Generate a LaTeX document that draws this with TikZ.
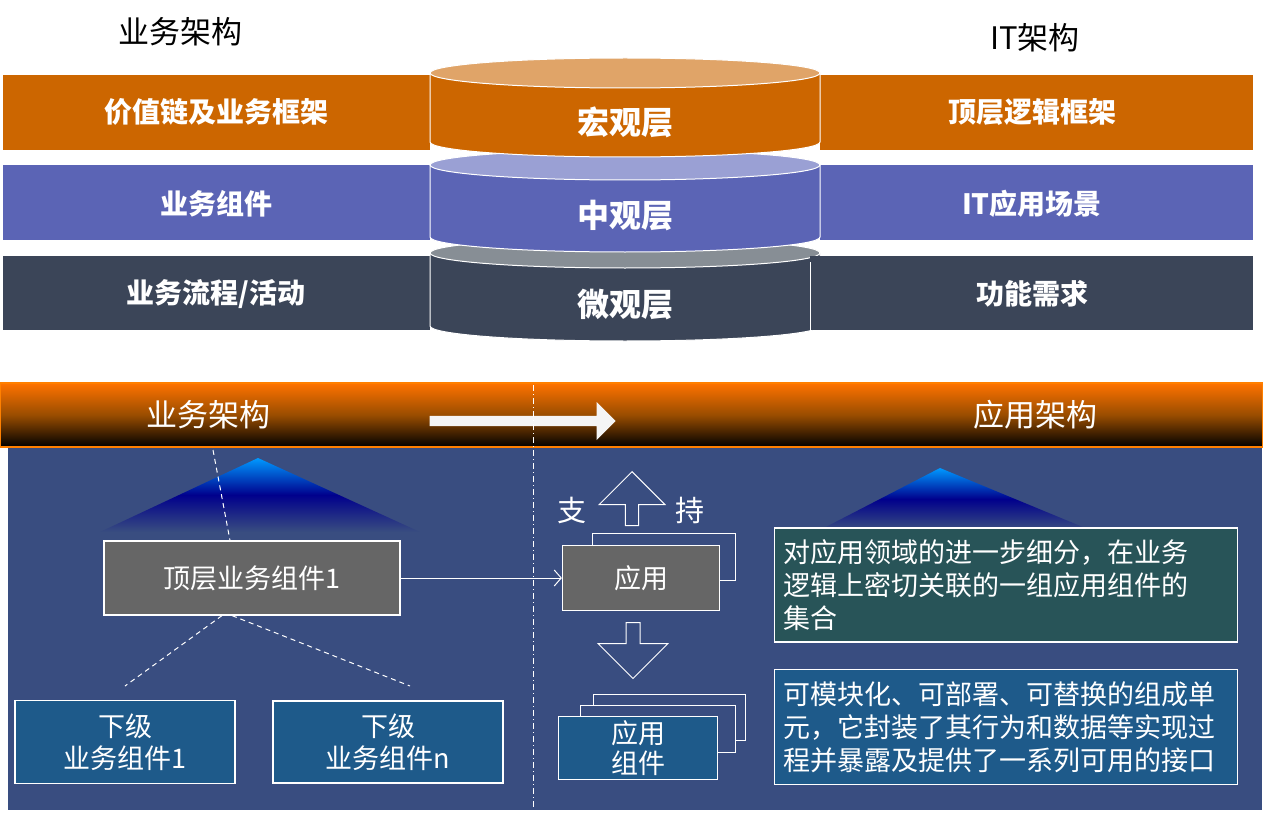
\documentclass[tikz,border=0pt]{standalone}
\usepackage{fontspec}
\setmainfont{Noto Sans CJK SC}
\usetikzlibrary{arrows.meta,shapes.arrows}
\definecolor{org}{HTML}{CC6600}\definecolor{orgL}{HTML}{E0A468}
\definecolor{pur}{HTML}{5B64B5}\definecolor{purL}{HTML}{9AA0D4}
\definecolor{drk}{HTML}{3B4558}\definecolor{drkL}{HTML}{878E95}
\definecolor{panel}{HTML}{394D80}\definecolor{bluebox}{HTML}{1E5A8A}
\definecolor{teal}{HTML}{285458}
\tikzset{band/.style={font=\bfseries\fontsize{28}{30}\selectfont,text=white},
 layer/.style={font=\bfseries\fontsize{32}{34}\selectfont,text=white},
 wbox/.style={draw=white,line width=1.2pt,text=white,font=\fontsize{27}{32}\selectfont,align=center},
 frame/.style={draw=white,line width=1pt},
 dsh/.style={draw=white,dashed,line width=1pt,dash pattern=on 5pt off 4pt}}
\newcommand{\cyl}[6]{%
 \fill[#3] (430,#1) -- (430,#2) arc[start angle=180,end angle=360,x radius=195,y radius=-15] -- (820,#1) -- cycle;
 \draw[white,line width=1pt] (430,#1) -- (430,#2) arc[start angle=180,end angle=360,x radius=195,y radius=-15] -- (820,#1);
 \filldraw[fill=#4,draw=white,line width=1pt] (625,#1) ellipse[x radius=195,y radius=15];
 \node[layer] (#6) at (625,{(#1+#2)/2+15}) {#5};}
\begin{document}
\begin{tikzpicture}[x=1pt,y=-1pt]
\useasboundingbox (0,0) rectangle (1263,813);
\fill[white] (0,0) rectangle (1263,813);
\node[font=\fontsize{31}{34}\selectfont] (h1) at (180,32) {业务架构};
\node[font=\fontsize{31}{34}\selectfont] (h2) at (1035,38) {IT架构};
% bands
\fill[org] (3,75) rectangle (430,150); \fill[org] (820,75) rectangle (1253,150);
\fill[pur] (3,165) rectangle (430,240); \fill[pur] (820,165) rectangle (1253,240);
\fill[drk] (3,256) rectangle (430,330);
\cyl{253}{326}{drk}{drkL}{微观层}{l3}
\fill[drk] (810,256) rectangle (1253,330);
\draw[white,line width=1pt] (810,262) -- (810,330);
\node[band] (b1) at (216,112) {价值链及业务框架};
\node[band] (b2) at (216,204) {业务组件};
\node[band] (b3) at (216,294) {业务流程/活动};
\node[band] (r1) at (1032,112) {顶层逻辑框架};
\node[band] (r2) at (1032,204) {IT应用场景};
\node[band] (r3) at (1032,294) {功能需求};
\cyl{165}{237}{pur}{purL}{中观层}{l2}
\cyl{73}{142}{org}{orgL}{宏观层}{l1}
% panel
\fill[panel] (8,447) rectangle (1262,810);
\shade[top color=orange!90!red,bottom color=black,middle color=orange!60!black] (0,383) rectangle (1263,447);
\draw[orange,line width=1.2pt] (0,383) rectangle (1263,447);
\node[text=white,font=\fontsize{31}{34}\selectfont] (t1) at (208,415) {业务架构};
\node[text=white,font=\fontsize{31}{34}\selectfont] (t2) at (1035,415) {应用架构};
\node[single arrow,fill=white!92!gray,minimum height=186pt,minimum width=38pt,single arrow head extend=6pt,inner sep=2pt,single arrow tip angle=90] (ar) at (520,421) {};
\draw[white,line width=1pt,dash pattern=on 6pt off 3pt on 1pt off 3pt] (533,385) -- (533,810);
% glows
\shade[top color=cyan!60!blue,bottom color=panel,middle color=blue!55!black] (258,458) -- (420,532) -- (100,532) -- cycle;
\shade[top color=cyan!60!blue,bottom color=panel,middle color=blue!55!black] (940,468) -- (1090,530) -- (820,530) -- cycle;
% boxes
\node[wbox,fill=black!60,minimum width=296pt,minimum height=74pt] (top) at (252,578) {顶层业务组件1};
\draw[dsh] (213,450) -- (top.north -| 230,0);
\coordinate (d1) at (125,686); \coordinate (d2) at (410,686);
\draw[dsh] ([xshift=-30pt]top.south) -- (d1);
\draw[dsh] ([xshift=-20pt]top.south) -- (d2);
\node[wbox,fill=bluebox,minimum width=220pt,minimum height=83pt,inner sep=0pt] (s1) at (125,742) {下级\\业务组件1};
\node[wbox,fill=bluebox,minimum width=230pt,minimum height=82pt,inner sep=0pt] (s2) at (388,742) {下级\\业务组件n};
\draw[frame] (592,545) -- (592,533) -- (735,533) -- (735,580) -- (720,580);
\node[wbox,fill=black!60,minimum width=157pt,minimum height=65pt] (app) at (641,578) {应用};
\draw[white,line width=1pt,-{Straight Barb[length=7pt,width=16pt]}] (top.east) -- (app.west);
\node[single arrow,shape border rotate=90,draw=white,line width=1pt,minimum height=54pt,minimum width=66pt,single arrow head extend=14pt,inner sep=3pt] (up) at (632,502) {};
\node[text=white,font=\fontsize{29}{32}\selectfont] (zhi) at (572,510) {支};
\node[text=white,font=\fontsize{29}{32}\selectfont] (chi) at (690,510) {持};
\node[single arrow,shape border rotate=270,draw=white,line width=1pt,minimum height=56pt,minimum width=70pt,single arrow head extend=14pt,inner sep=3pt] (down) at (633,647) {};
\draw[frame] (593,705) -- (593,694) -- (745,694) -- (745,740) -- (735,740);
\draw[frame,fill=panel] (580,717) -- (580,705) -- (735,705) -- (735,752) -- (718,752);
\node[wbox,fill=bluebox,minimum width=159pt,minimum height=63pt,inner sep=0pt,font=\fontsize{27}{30}\selectfont] (comp) at (638,748) {应用\\组件};
\node[wbox,fill=teal,minimum width=463pt,minimum height=114pt,align=left,text width=445pt,inner sep=4pt,font=\fontsize{27}{33}\selectfont] (d1box) at (1006,585) {对应用领域的进一步细分，在业务\\逻辑上密切关联的一组应用组件的\\集合};
\node[wbox,fill=bluebox,minimum width=463pt,minimum height=115pt,align=left,text width=445pt,inner sep=4pt,font=\fontsize{27}{33}\selectfont] (d2box) at (1006,727) {可模块化、可部署、可替换的组成单\\元，它封装了其行为和数据等实现过\\程并暴露及提供了一系列可用的接口};
\end{tikzpicture}
\end{document}
